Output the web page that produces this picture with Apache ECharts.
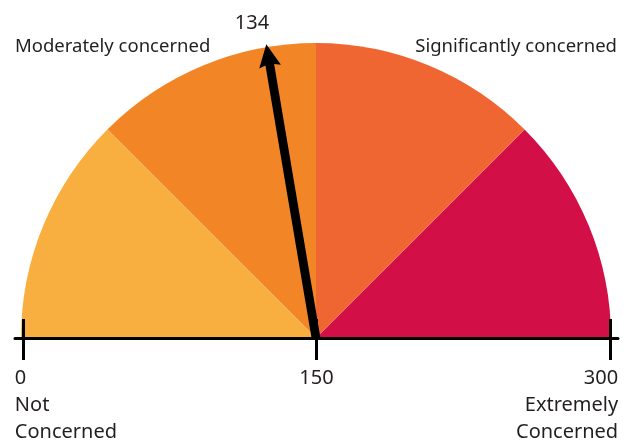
<!DOCTYPE html>
<html>
<head>
<meta charset="utf-8">
<script src="https://cdn.jsdelivr.net/npm/echarts@6/dist/echarts.min.js"></script>
<style>html,body{margin:0;padding:0;background:#fff}#c{width:630px;height:446px}</style>
</head>
<body>
<div id="c"></div>
<script>
// Data
var gaugeMin = 0;
var gaugeMax = 300;
var gaugeValue = 134;
var segmentEnds = [75, 150, 225, 300];
var segmentColors = ['#F9AE40', '#F28627', '#EF6633', '#D20F46'];
var topLabels = ['Moderately concerned', 'Significantly concerned'];
var tickValues = [0, 150, 300];
var tickCaptions = {0: 'Not\nConcerned', 150: '', 300: 'Extremely\nConcerned'};

var FONT = 'Noto Sans';
var TXT = '#231F20';

var chart = echarts.init(document.getElementById('c'), null, {renderer: 'canvas'});

var stops = segmentEnds.map(function (v, i) {
  return [(v - gaugeMin) / (gaugeMax - gaugeMin), segmentColors[i]];
});

var R = 295;
var option = {
  animation: false,
  title: [
    {text: topLabels[0], left: 10, top: 32, textStyle: {fontFamily: FONT, fontSize: 18.5, fontWeight: 'normal', color: TXT}},
    {text: topLabels[1], right: 8, top: 32, textStyle: {fontFamily: FONT, fontSize: 18.5, fontWeight: 'normal', color: TXT}}
  ],
  grid: {left: 15, right: 12, top: 20, bottom: 108, show: false, z: 10},
  xAxis: [
    {
      type: 'value', min: -4, max: 304, position: 'bottom', z: 10,
      splitLine: {show: false},
      axisLine: {show: true, lineStyle: {color: '#000', width: 3}},
      axisTick: {show: true, customValues: tickValues, length: 22, inside: false, lineStyle: {color: '#000', width: 3}},
      axisLabel: {
        show: true, customValues: tickValues, margin: 27,
        color: TXT,
        formatter: function (v) {
          var cap = tickCaptions[v];
          var key = v === tickValues[0] ? 'l' : (v === tickValues[tickValues.length - 1] ? 'r' : 'c');
          var lines = [String(v)];
          if (cap) lines = lines.concat(cap.split('\n'));
          return lines.map(function (s) { return '{' + key + '|' + s + '}'; }).join('\n');
        },
        rich: {
          l: {fontFamily: FONT, fontSize: 20, color: TXT, lineHeight: 27, width: 16, align: 'left'},
          c: {fontFamily: FONT, fontSize: 20, color: TXT, lineHeight: 27, align: 'center'},
          r: {fontFamily: FONT, fontSize: 20, color: TXT, lineHeight: 27, width: 16, align: 'right'}
        }
      }
    },
    {
      type: 'value', min: -4, max: 304, position: 'bottom', z: 10,
      splitLine: {show: false},
      axisLine: {show: false},
      axisTick: {show: true, customValues: tickValues, length: 19, inside: true, lineStyle: {color: '#000', width: 3}},
      axisLabel: {show: false}
    }
  ],
  yAxis: {type: 'value', show: false, min: 0, max: 1},
  series: [
    {
      type: 'gauge',
      center: [316, 338],
      radius: R,
      startAngle: 180,
      endAngle: 0,
      min: gaugeMin,
      max: gaugeMax,
      z: 1,
      axisLine: {lineStyle: {width: R, color: stops}},
      splitLine: {show: false},
      axisTick: {show: false},
      axisLabel: {show: false},
      pointer: {
        show: true,
        icon: 'path://M50,0 L100,76 L70,70 L70,1000 L30,1000 L30,70 L0,76 Z',
        length: '101%',
        width: 22,
        offsetCenter: [0, 0],
        itemStyle: {color: '#000'}
      },
      anchor: {show: false},
      title: {show: false},
      detail: {
        show: true,
        offsetCenter: [-64, -315],
        formatter: '{value}',
        fontFamily: FONT,
        fontSize: 20,
        fontWeight: 'normal',
        color: TXT
      },
      data: [{value: gaugeValue}]
    }
  ]
};
chart.setOption(option);
</script>
</body>
</html>
